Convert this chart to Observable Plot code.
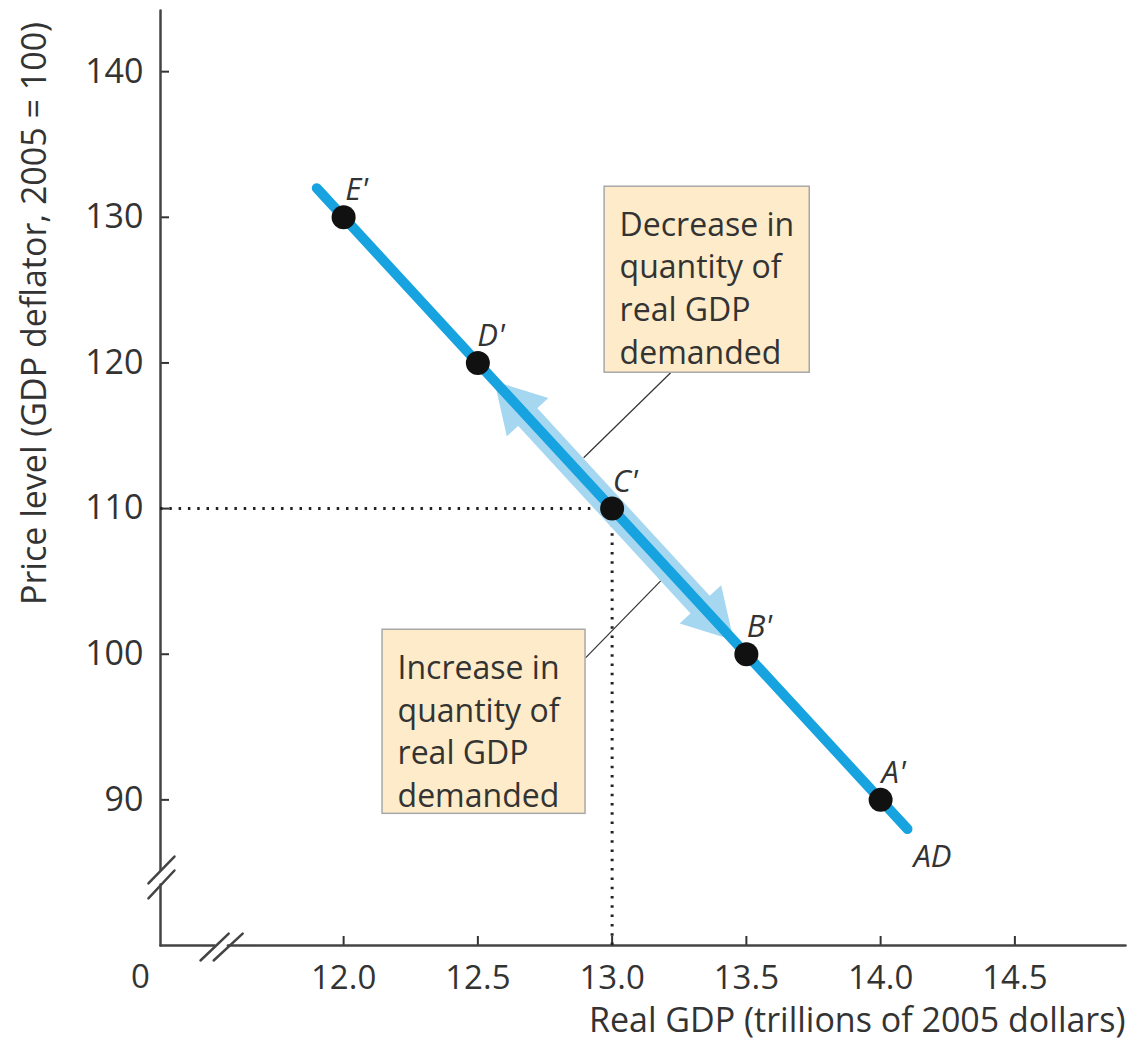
<!DOCTYPE html>
<html>
<head>
<meta charset="utf-8">
<script src="https://cdn.jsdelivr.net/npm/d3@7"></script>
<script src="https://cdn.jsdelivr.net/npm/@observablehq/plot@0.6"></script>
<style>
  html, body { margin: 0; padding: 0; background: #fff; }
</style>
</head>
<body>
<div id="chart"></div>
<script>
// ---- data ----
const xTicks = [12.0, 12.5, 13.0, 13.5, 14.0, 14.5];
const yTicks = [90, 100, 110, 120, 130, 140];
const pointLabels = ["E'", "D'", "C'", "B'", "A'"];
const pointGDP = [12.0, 12.5, 13.0, 13.5, 14.0];
const pointPrice = [130, 120, 110, 100, 90];
const adGDP = [11.9, 14.1];
const adPrice = [132, 88];
const equilibriumGDP = 13.0;
const equilibriumPrice = 110;
const arrowHeadGDP = [12.644, 13.37];
const arrowHeadPrice = [117.1, 102.6];
const arrowBandGDP = [12.68, 13.333];
const arrowBandPrice = [116.4, 103.3];
const boxTexts = ["Decrease in\nquantity of\nreal GDP\ndemanded", "Increase in\nquantity of\nreal GDP\ndemanded"];
const boxGDP1 = [12.972, 12.145];
const boxGDP2 = [13.736, 12.901];
const boxPriceTop = [132.1, 101.68];
const boxPriceBottom = [119.33, 89.04];
const leaderGDP1 = [13.218, 12.901];
const leaderPrice1 = [119.33, 99.75];
const leaderGDP2 = [12.894, 13.181];
const leaderPrice2 = [113.49, 105.04];
const xLabel = "Real GDP (trillions of 2005 dollars)";
const yLabel = "Price level (GDP deflator, 2005 = 100)";

// ---- layout ----
const xMin = 11.318, xMax = 14.912, yMin = 80, yMax = 144.2;
const points = pointGDP.map((x, i) => ({x, y: pointPrice[i], label: pointLabels[i]}));
const adLine = adGDP.map((x, i) => ({x, y: adPrice[i]}));
const boxes = boxTexts.map((t, i) => ({text: t, x1: boxGDP1[i], x2: boxGDP2[i], y1: boxPriceBottom[i], y2: boxPriceTop[i]}));
const leaders = leaderGDP1.map((x, i) => ({x1: x, y1: leaderPrice1[i], x2: leaderGDP2[i], y2: leaderPrice2[i]}));
const arrowHeads = arrowHeadGDP.map((x, i) => ({x, y: arrowHeadPrice[i], rot: i === 0 ? -42.7 : 137.3}));
const band = arrowBandGDP.map((x, i) => ({x, y: arrowBandPrice[i]}));

// axis with breaks (decorations)
const xAxisSegs = [
  {k: 0, x: xMin, y: yMin}, {k: 0, x: 11.519, y: yMin},
  {k: 1, x: 11.569, y: yMin}, {k: 1, x: xMax, y: yMin}
];
const yAxisSegs = [
  {k: 0, x: xMin, y: yMin}, {k: 0, x: xMin, y: 84.19},
  {k: 1, x: xMin, y: 85.19}, {k: 1, x: xMin, y: yMax}
];
const slashes = [
  {k: 0, x: 11.467, y: 78.97}, {k: 0, x: 11.572, y: 80.82},
  {k: 1, x: 11.516, y: 78.97}, {k: 1, x: 11.624, y: 80.82},
  {k: 2, x: 11.273, y: 84.26}, {k: 2, x: 11.370, y: 86.11},
  {k: 3, x: 11.273, y: 83.23}, {k: 3, x: 11.370, y: 85.15}
];

const ink = "#333";
const lightBlue = "#a6d7f1";
const chart = Plot.plot({
  width: 1129,
  height: 1042,
  marginLeft: 160,
  marginRight: 4,
  marginTop: 10,
  marginBottom: 97,
  style: {fontFamily: "'Open Sans', sans-serif", color: ink, background: "#fff"},
  x: {domain: [xMin, xMax]},
  y: {domain: [yMin, yMax]},
  marks: [
    Plot.axisX({ticks: xTicks, tickFormat: d3.format(".1f"), tickSize: -9, tickPadding: 29, fontSize: 33, strokeWidth: 2, label: null}),
    Plot.axisY({ticks: yTicks, tickSize: -9, tickPadding: 26, fontSize: 34, strokeWidth: 2, label: null}),
    Plot.line(xAxisSegs, {x: "x", y: "y", z: "k", stroke: "#444", strokeWidth: 2.5}),
    Plot.line(yAxisSegs, {x: "x", y: "y", z: "k", stroke: "#444", strokeWidth: 2.5}),
    Plot.line(slashes, {x: "x", y: "y", z: "k", stroke: "#444", strokeWidth: 2.5}),
    Plot.text(["0"], {x: () => xMin, y: () => yMin, dx: -20, dy: 32, fontSize: 33, fill: ink}),
    Plot.text([xLabel], {x: () => xMax, y: () => yMin, dy: 76, textAnchor: "end", fontSize: 34, fill: ink}),
    Plot.text([yLabel], {frameAnchor: "left", y: () => 123.4, dx: -125, rotate: -90, textAnchor: "middle", fontSize: 34, fill: ink}),
    // dotted reference lines
    Plot.ruleY([equilibriumPrice], {x1: xMin, x2: equilibriumGDP, stroke: "#222", strokeWidth: 3, strokeDasharray: "2.5,6.8"}),
    Plot.ruleX([equilibriumGDP], {y1: yMin, y2: equilibriumPrice, stroke: "#222", strokeWidth: 3, strokeDasharray: "2.5,6.8"}),
    // leader lines
    Plot.link(leaders, {x1: "x1", y1: "y1", x2: "x2", y2: "y2", stroke: "#333", strokeWidth: 1.2}),
    // boxes
    Plot.rect(boxes, {x1: "x1", x2: "x2", y1: "y1", y2: "y2", fill: "#fdebc9", stroke: "#a8a8a8", strokeWidth: 1.5}),
    Plot.text(boxes, {x: "x1", y: "y2", text: "text", dx: 15, dy: 19, textAnchor: "start", lineAnchor: "top", lineHeight: 1.33, fontSize: 32, fill: ink}),
    // movement arrows
    Plot.line(band, {x: "x", y: "y", stroke: lightBlue, strokeWidth: 26}),
    Plot.dot(arrowHeads, {x: "x", y: "y", symbol: "triangle", r: 21, fill: lightBlue, rotate: "rot"}),
    // AD curve
    Plot.line(adLine, {x: "x", y: "y", stroke: "#17a3df", strokeWidth: 10}),
    Plot.text(["AD"], {x: () => adGDP[1], y: () => adPrice[1], dx: 25, dy: 28, fontSize: 31, fontStyle: "italic", fill: ink}),
    // points
    Plot.dot(points, {x: "x", y: "y", r: 12, fill: "#111"}),
    Plot.text(points, {x: "x", y: "y", text: "label", dx: 13, dy: -27, fontSize: 31, fontStyle: "italic", fill: ink})
  ]
});
document.getElementById("chart").appendChild(chart);
</script>
</body>
</html>
